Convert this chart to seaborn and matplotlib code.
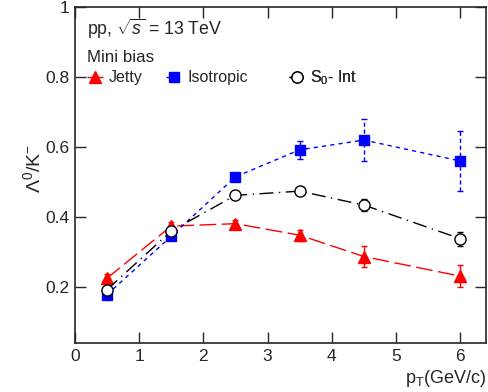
import seaborn as sns
import matplotlib.pyplot as plt
import pandas as pd

pt = [0.5, 1.5, 2.5, 3.5, 4.5, 6.0]
jetty = [0.225, 0.374, 0.381, 0.348, 0.287, 0.231]
jetty_err = [0.012, 0.012, 0.010, 0.016, 0.030, 0.032]
iso = [0.178, 0.345, 0.515, 0.592, 0.620, 0.560]
iso_err = [0.010, 0.012, 0.012, 0.026, 0.060, 0.086]
s0 = [0.192, 0.360, 0.462, 0.474, 0.434, 0.338]
s0_err = [0.010, 0.010, 0.010, 0.012, 0.018, 0.020]

sns.set_style('ticks')
plt.rcParams['font.family'] = ['Liberation Sans', 'DejaVu Sans']
plt.rcParams['mathtext.fontset'] = 'custom'
plt.rcParams['mathtext.rm'] = 'Liberation Sans'
plt.rcParams['mathtext.it'] = 'Liberation Sans:italic'

df = pd.DataFrame({'pt': pt * 3,
                   'ratio': jetty + iso + s0,
                   'err': jetty_err + iso_err + s0_err,
                   'set': ['Jetty'] * 6 + ['Isotropic'] * 6 + ['S0'] * 6})

fig = plt.figure(figsize=(4.89, 3.92), dpi=100)
ax = fig.add_axes([0.153, 0.125, 0.841, 0.857])

styles = {
    'Jetty': dict(color='red', marker='^', dashes=(12, 4), mfc='red', label='Jetty', ms=8),
    'Isotropic': dict(color='blue', marker='s', dashes=(3, 3), mfc='blue', label='Isotropic', ms=7.5),
    'S0': dict(color='black', marker='o', dashes=(10, 4, 1, 4), mfc='white', label=r'S$_0$- Int', ms=8),
}
handles = []
for name, st in styles.items():
    d = df[df['set'] == name]
    eb = ax.errorbar(d['pt'], d['ratio'], yerr=d['err'], fmt='none', ecolor=st['color'],
                     elinewidth=1, capsize=2.5, capthick=1, zorder=2)
    if name == 'Isotropic':
        eb[2][0].set_linestyle((0, (3, 2)))
    sns.lineplot(data=d, x='pt', y='ratio', ax=ax, color=st['color'], linewidth=1,
                 errorbar=None, legend=False, zorder=3)
    ln = ax.lines[-1]
    ln.set_dashes(st['dashes'])
    ln.set_marker(st['marker'])
    ln.set_markersize(st['ms'])
    ln.set_markerfacecolor(st['mfc'])
    ln.set_markeredgecolor(st['color'])
    ln.set_markeredgewidth(1)
    ln.set_label(st['label'])
    handles.append(ln)

ax.set_xlim(0, 6.4)
ax.set_ylim(0.04, 1.0)
ax.set_xticks([0, 1, 2, 3, 4, 5, 6])
ax.set_yticks([0.2, 0.4, 0.6, 0.8, 1.0])
ax.set_yticklabels(['0.2', '0.4', '0.6', '0.8', '1'])
ax.tick_params(direction='in', length=8, width=1, top=True, right=True, labelsize=12.5, pad=4)
for sp in ax.spines.values():
    sp.set_linewidth(1.2)

ax.set_xlabel(r'p$_\mathregular{T}$(GeV/c)', fontsize=13, loc='right', labelpad=3)
ax.set_ylabel(r'$\Lambda^0$/K$^{\mathregular{-}}$', fontsize=14)
ax.yaxis.set_label_coords(-0.075, 0.52)

ax.text(0.19, 0.917, r'pp, $\sqrt{s}$ = 13 TeV', fontsize=12.8, transform=ax.get_xaxis_transform())
ax.text(0.19, 0.836, 'Mini bias', fontsize=12.2, transform=ax.get_xaxis_transform())

# three separate entries, placed like the ROOT legend
x_starts = [0.03, 0.222, 0.52]
for h, x0 in zip(handles, x_starts):
    leg = ax.legend(handles=[h], loc='center left', bbox_to_anchor=(x0, 0.79), frameon=False,
                    fontsize=11.5, handlelength=1.0, handletextpad=0.35, borderaxespad=0,
                    borderpad=0)
    ax.add_artist(leg)

fig.savefig('out.png', dpi=100)
